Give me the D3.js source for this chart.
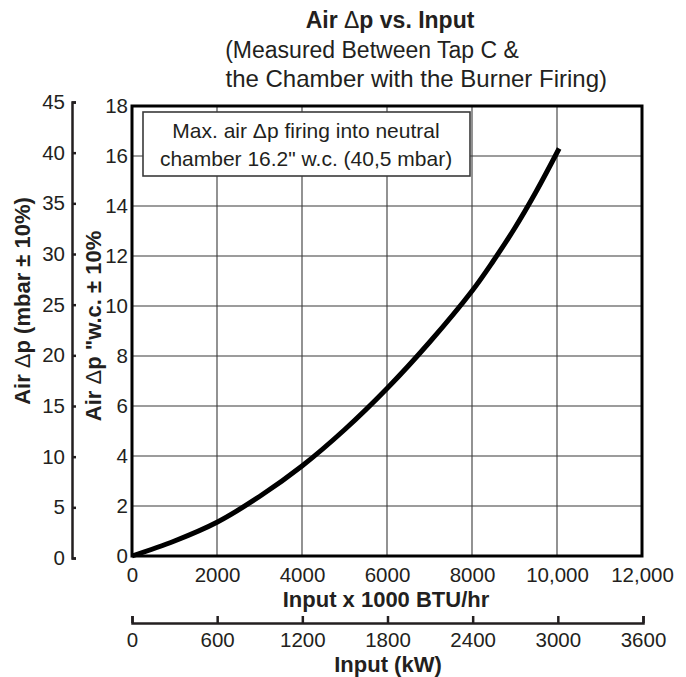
<!DOCTYPE html>
<html lang="en">
<head>
<meta charset="UTF-8">
<title>Air dp vs Input</title>
<script src="https://d3js.org/d3.v7.min.js"></script>
<style>
  body { margin: 0; background: #fff; }
  svg text { font-family: "Liberation Sans", Arial, sans-serif; fill: #231f20; }
</style>
</head>
<body>
<svg width="686" height="677"></svg>
<script>
    // curve (input x1000 BTU/hr, air dp in " w.c.)
    const inputBtu = [0, 1000, 2000, 3000, 4000, 5000, 6000, 7000, 8000, 8500, 9000, 9500, 10050];
    const airDp = [0, 0.6, 1.35, 2.38, 3.6, 5.05, 6.7, 8.55, 10.6, 11.8, 13.1, 14.55, 16.3];

    const xTicks = [0, 2000, 4000, 6000, 8000, 10000, 12000];
    const xTickLabels = ["0", "2000", "4000", "6000", "8000", "10,000", "12,000"];
    const yTicks = [0, 2, 4, 6, 8, 10, 12, 14, 16, 18];
    const mbarTicks = [0, 5, 10, 15, 20, 25, 30, 35, 40, 45];
    const kwTicks = [0, 600, 1200, 1800, 2400, 3000, 3600];
    const kwTickLabels = ["0", "600", "1200", "1800", "2400", "3000", "3600"];

    const noteLines = ["Max. air \u0394p firing into neutral", "chamber 16.2\" w.c. (40,5 mbar)"];

    const svg = d3.select("svg");

    const x = d3.scaleLinear().domain([0, 12000]).range([132, 642]);
    const y = d3.scaleLinear().domain([0, 18]).range([556, 106]);
    const yMbar = d3.scaleLinear().domain([0, 45]).range([558, 102]);
    const xKw = d3.scaleLinear().domain([0, 3600]).range([132, 643]);

    // grid
    const grid = svg.append("g").attr("stroke", "#3a3a3a").attr("stroke-width", 1.1);
    grid.selectAll("line.v").data(xTicks.slice(1, -1)).enter().append("line")
        .attr("x1", d => x(d)).attr("x2", d => x(d))
        .attr("y1", y(0)).attr("y2", y(18));
    grid.selectAll("line.h").data(yTicks.slice(1, -1)).enter().append("line")
        .attr("x1", x(0)).attr("x2", x(12000))
        .attr("y1", d => y(d)).attr("y2", d => y(d));

    // note box
    const note = svg.append("g");
    note.append("rect")
        .attr("x", 143).attr("y", 112).attr("width", 327).attr("height", 64)
        .attr("fill", "#fff").attr("stroke", "#3a3a3a").attr("stroke-width", 1.6);
    note.selectAll("text").data(noteLines).enter().append("text")
        .attr("x", 306).attr("y", (d, i) => 138 + i * 27.5)
        .attr("text-anchor", "middle").attr("font-size", 21)
        .text(d => d);

    // curve
    const line = d3.line()
        .x((d, i) => x(inputBtu[i]))
        .y(d => y(d))
        .curve(d3.curveCatmullRom);
    svg.append("path").datum(airDp)
        .attr("d", line)
        .attr("fill", "none").attr("stroke", "#000").attr("stroke-width", 5);

    // frame
    svg.append("rect")
        .attr("x", x(0)).attr("y", y(18))
        .attr("width", x(12000) - x(0)).attr("height", y(0) - y(18))
        .attr("fill", "none").attr("stroke", "#000").attr("stroke-width", 3);

    // x axis labels (BTU)
    const xAxis = svg.append("g").attr("transform", `translate(0,${y(0)})`)
        .call(d3.axisBottom(x).tickValues(xTicks).tickFormat((d, i) => xTickLabels[i])
            .tickSize(0).tickPadding(11));
    xAxis.select(".domain").remove();
    xAxis.selectAll("text").attr("font-size", 20.5).attr("font-family", null).attr("fill", null);

    // y axis labels (w.c.)
    const yAxis = svg.append("g").attr("transform", `translate(${x(0)},0)`)
        .call(d3.axisLeft(y).tickValues(yTicks).tickSize(0).tickPadding(4));
    yAxis.select(".domain").remove();
    yAxis.selectAll("text").attr("font-size", 20.5).attr("font-family", null).attr("fill", null);

    // mbar axis
    const mAxis = svg.append("g").attr("transform", "translate(72,0)")
        .call(d3.axisLeft(yMbar).tickValues(mbarTicks).tickSizeInner(-4).tickSizeOuter(-4).tickPadding(7));
    mAxis.select(".domain").attr("stroke", "#231f20").attr("stroke-width", 2.5);
    mAxis.selectAll(".tick line").attr("stroke", "#231f20").attr("stroke-width", 2.5);
    mAxis.selectAll("text").attr("font-size", 20.5).attr("font-family", null).attr("fill", null);

    // kW axis
    const kAxis = svg.append("g").attr("transform", "translate(0,623)")
        .call(d3.axisBottom(xKw).tickValues(kwTicks).tickFormat((d, i) => kwTickLabels[i])
            .tickSizeInner(-7).tickSizeOuter(-7).tickPadding(9));
    kAxis.select(".domain").attr("stroke", "#231f20").attr("stroke-width", 2.5);
    kAxis.selectAll(".tick line").attr("stroke", "#231f20").attr("stroke-width", 2.5);
    kAxis.selectAll("text").attr("font-size", 20.5).attr("font-family", null).attr("fill", null);

    // axis titles
    svg.append("text").attr("x", 386).attr("y", 606.5)
        .attr("text-anchor", "middle").attr("font-size", 22).attr("font-weight", "bold")
        .text("Input x 1000 BTU/hr");
    svg.append("text").attr("x", 388).attr("y", 672)
        .attr("text-anchor", "middle").attr("font-size", 22).attr("font-weight", "bold")
        .text("Input (kW)");

    function dpTitle(tx, ty, after) {
        const t = svg.append("text")
            .attr("transform", `translate(${tx},${ty}) rotate(-90)`)
            .attr("text-anchor", "middle").attr("font-size", 22).attr("font-weight", "bold");
        t.append("tspan").text("Air ");
        t.append("tspan").attr("font-weight", "normal").text("\u0394");
        t.append("tspan").text(after);
    }
    dpTitle(30, 301, "p (mbar \u00b1 10%)");
    dpTitle(101, 326, "p \"w.c. \u00b1 10%");

    // chart title
    const t1 = svg.append("text").attr("x", 390).attr("y", 28)
        .attr("text-anchor", "middle").attr("font-size", 23).attr("font-weight", "bold");
    t1.append("tspan").text("Air ");
    t1.append("tspan").attr("font-weight", "normal").text("\u0394");
    t1.append("tspan").text("p vs. Input");
    svg.append("text").attr("x", 372).attr("y", 58)
        .attr("text-anchor", "middle").attr("font-size", 23)
        .text("(Measured Between Tap C &");
    svg.append("text").attr("x", 607).attr("y", 87)
        .attr("text-anchor", "end").attr("font-size", 24)
        .text("the Chamber with the Burner Firing)");
</script>
</body>
</html>
